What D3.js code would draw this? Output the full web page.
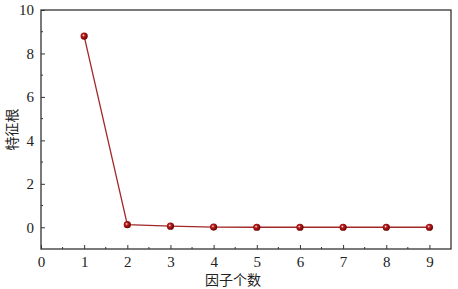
<!DOCTYPE html>
<html>
<head>
<meta charset="utf-8">
<script src="https://cdn.jsdelivr.net/npm/d3@7"></script>
<style>
  body { margin: 0; background: #fff; }
  .lbl { font-family: "Noto Sans CJK SC", sans-serif; font-size: 14px; fill: #222; }
</style>
</head>
<body>
<div id="chart"></div>
<script>
// factor count vs eigenvalue
const factors = [1, 2, 3, 4, 5, 6, 7, 8, 9];
const eigen = [8.8, 0.12, 0.05, 0.01, 0.0, 0.0, 0.0, 0.0, 0.0];
const xTicks = [0, 1, 2, 3, 4, 5, 6, 7, 8, 9];
const yTicks = [0, 2, 4, 6, 8, 10];

var width = 458, height = 289;
var margin = {left: 41, top: 10, right: 7, bottom: 40};

var svg = d3.select("#chart").append("svg")
  .attr("width", width)
  .attr("height", height);

var x = d3.scaleLinear().domain([0, 9.5]).range([margin.left, width - margin.right]);
var y = d3.scaleLinear().domain([-1, 10]).range([height - margin.bottom, margin.top]);

var defs = svg.append("defs");
var grad = defs.append("radialGradient").attr("id", "ball")
  .attr("cx", "40%").attr("cy", "40%").attr("r", "60%");
grad.append("stop").attr("offset", "0%").attr("stop-color", "#ffffff");
grad.append("stop").attr("offset", "30%").attr("stop-color", "#c02020");
grad.append("stop").attr("offset", "100%").attr("stop-color", "#6a0000");

// frame
svg.append("rect")
  .attr("x", x(0)).attr("y", y(10))
  .attr("width", x(9.5) - x(0)).attr("height", y(-1) - y(10))
  .attr("fill", "none").attr("stroke", "#333").attr("stroke-width", 1.3);

// x axis, ticks inward
var xAxis = svg.append("g")
  .attr("transform", "translate(0," + y(-1) + ")")
  .call(d3.axisBottom(x).tickValues(xTicks).tickSize(-4).tickPadding(7).tickFormat(d3.format("d")));
xAxis.select(".domain").remove();
xAxis.selectAll("line").attr("stroke", "#333");
xAxis.attr("font-family", "Liberation Serif").attr("font-size", 15);
xAxis.selectAll("text").attr("fill", "#222");
svg.append("g").selectAll("line")
  .data(d3.range(0.5, 9.5, 1))
  .enter().append("line")
  .attr("x1", function (d) { return x(d); }).attr("x2", function (d) { return x(d); })
  .attr("y1", y(-1)).attr("y2", y(-1) - 2)
  .attr("stroke", "#333");

// y axis, ticks inward
var yAxis = svg.append("g")
  .attr("transform", "translate(" + x(0) + ",0)")
  .call(d3.axisLeft(y).tickValues(yTicks).tickSize(-4).tickPadding(7).tickFormat(d3.format("d")));
yAxis.select(".domain").remove();
yAxis.selectAll("line").attr("stroke", "#333");
yAxis.attr("font-family", "Liberation Serif").attr("font-size", 15);
yAxis.selectAll("text").attr("fill", "#222");
svg.append("g").selectAll("line")
  .data([1, 3, 5, 7, 9])
  .enter().append("line")
  .attr("x1", x(0)).attr("x2", x(0) + 2)
  .attr("y1", function (d) { return y(d); }).attr("y2", function (d) { return y(d); })
  .attr("stroke", "#333");

// series
var pts = factors.map(function (f, i) { return [f, eigen[i]]; });
svg.append("path")
  .datum(pts)
  .attr("fill", "none")
  .attr("stroke", "#a02828")
  .attr("stroke-width", 1.3)
  .attr("d", d3.line().x(function (d) { return x(d[0]); }).y(function (d) { return y(d[1]); }));

svg.append("g").selectAll("circle")
  .data(pts)
  .enter().append("circle")
  .attr("cx", function (d) { return x(d[0]); })
  .attr("cy", function (d) { return y(d[1]); })
  .attr("r", 3.6)
  .attr("fill", "url(#ball)");

// axis labels
svg.append("text").attr("class", "lbl")
  .attr("x", 233).attr("y", 285)
  .attr("text-anchor", "middle")
  .text("因子个数");

svg.append("text").attr("class", "lbl")
  .attr("transform", "translate(17," + (y(4.5)) + ")rotate(-90)")
  .attr("text-anchor", "middle")
  .text("特征根");
</script>
</body>
</html>
